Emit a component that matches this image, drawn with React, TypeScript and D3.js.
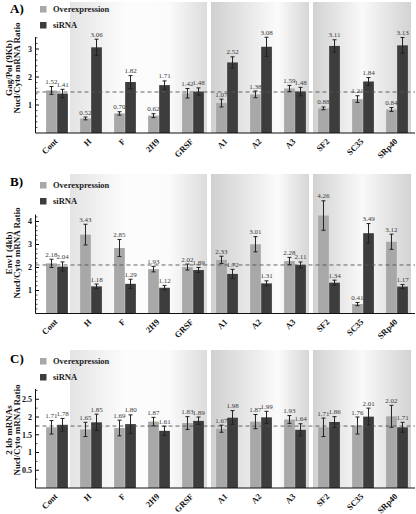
import React from "react";
import * as d3 from "d3";

const categories = ["Cont", "H", "F", "2H9", "GRSF", "A1", "A2", "A3", "SF2", "SC35", "SRp40"];
const seriesNames = ["Overexpression", "siRNA"];

const gagOE = [1.52, 0.52, 0.70, 0.62, 1.42, 1.07, 1.38, 1.59, 0.88, 1.21, 0.84];
const gagSi = [1.41, 3.06, 1.82, 1.71, 1.48, 2.52, 3.08, 1.48, 3.11, 1.84, 3.13];
const gagOEErr = [0.14, 0.05, 0.06, 0.07, 0.17, 0.14, 0.12, 0.11, 0.05, 0.12, 0.07];
const gagSiErr = [0.15, 0.29, 0.23, 0.15, 0.13, 0.2, 0.34, 0.15, 0.22, 0.14, 0.28];

const envOE = [2.18, 3.43, 2.85, 1.93, 2.02, 2.33, 3.01, 2.28, 4.26, 0.41, 3.12];
const envSi = [2.04, 1.18, 1.29, 1.12, 1.89, 1.72, 1.31, 2.11, 1.34, 3.49, 1.17];
const envOEErr = [0.18, 0.45, 0.37, 0.12, 0.13, 0.16, 0.33, 0.16, 0.64, 0.07, 0.33];
const envSiErr = [0.2, 0.1, 0.2, 0.1, 0.11, 0.2, 0.11, 0.13, 0.11, 0.42, 0.09];

const kbOE = [1.71, 1.65, 1.69, 1.87, 1.83, 1.67, 1.87, 1.93, 1.71, 1.76, 2.02];
const kbSi = [1.78, 1.85, 1.80, 1.61, 1.89, 1.98, 1.99, 1.64, 1.86, 2.01, 1.71];
const kbOEErr = [0.19, 0.2, 0.22, 0.12, 0.18, 0.1, 0.2, 0.11, 0.26, 0.24, 0.31];
const kbSiErr = [0.18, 0.23, 0.26, 0.13, 0.11, 0.2, 0.17, 0.17, 0.15, 0.24, 0.14];

const gagTicks = [1, 2, 3];
const envTicks = [1, 2, 3, 4];
const kbTicks = [0.5, 1, 1.5, 2, 2.5];

const bgGroups = [
  ["H", "F", "2H9", "GRSF"],
  ["A1", "A2", "A3"],
  ["SF2", "SC35", "SRp40"],
];

const FONT = "'Liberation Serif', 'Times New Roman', serif";
const COLORS = ["#a8a8a8", "#3d3d3d"];

// layout
const bgOffsets = [[-4, -3], [1, -3], [1, -3]];
const bgStops = [
  [[0, "#e4e4e4"], [0.4, "#fcfcfc"], [0.72, "#fbfbfb"], [1, "#dcdcdc"]],
  [[0, "#d0d0d0"], [0.68, "#fbfbfb"], [1, "#d6d6d6"]],
  [[0, "#d2d2d2"], [0.5, "#f9f9f9"], [1, "#d3d3d3"]],
];

const panels = [
  {
    id: "A", label: "A)", top: 0, baseline: 133, max: 3.43, minor: 0.2, ppu: 28,
    ticks: gagTicks, oe: gagOE, si: gagSi, oeErr: gagOEErr, siErr: gagSiErr,
    ylab: ["Gag/Pol (9Kb)", "Nucl/Cyto mRNA Ratio"], bgTop: 2, titleY: 13, ylabC: 68,
  },
  {
    id: "B", label: "B)", top: 176, baseline: 313.5, max: 4.3, minor: 0.2, ppu: 23,
    ticks: envTicks, oe: envOE, si: envSi, oeErr: envOEErr, siErr: envSiErr,
    ylab: ["Env1 (4kb)", "Nucl/Cyto mRNA Ratio"], bgTop: 174, titleY: 186, ylabC: 253,
  },
  {
    id: "C", label: "C)", top: 352, baseline: 488, max: 2.79, minor: 0.25, ppu: 35.5,
    ticks: kbTicks, oe: kbOE, si: kbSi, oeErr: kbOEErr, siErr: kbSiErr,
    ylab: ["2 kb mRNAs", "Nucl/Cyto mRNA Ratio"], bgTop: 350, titleY: 363, ylabC: 430,
  },
];

const AXIS_X = 35.5;
const X_END = 415;

const x = d3.scaleBand<string>().domain(categories).range([40, 414]).paddingInner(0.34).paddingOuter(0.17);
const xSub = d3.scaleBand<string>().domain(seriesNames).range([0, x.bandwidth()]).padding(0.03);
const fmt = d3.format(".2f");

function Panel({ p }: { p: (typeof panels)[number] }) {
  const yTop = p.baseline - p.max * p.ppu;
  const y = d3.scaleLinear().domain([0, p.max]).range([p.baseline, yTop]);
  const step = x.step();
  const cellStart = (c: string) => (x(c) as number) - (step * x.paddingInner()) / 2;
  const minorTicks = d3.range(p.minor, p.max + 1e-9, p.minor).filter((v) => !p.ticks.some((t) => Math.abs(t - v) < 1e-6));
  const ref = (p.oe[0] + p.si[0]) / 2;
  const series = [
    { name: seriesNames[0], vals: p.oe, errs: p.oeErr, color: COLORS[0] },
    { name: seriesNames[1], vals: p.si, errs: p.siErr, color: COLORS[1] },
  ];
  return (
    <g>
      <defs>
        {bgStops.map((stops, i) => (
          <linearGradient key={i} id={`bg${p.id}${i}`} x1="0" x2="1" y1="0" y2="0">
            {stops.map(([o, c], j) => (
              <stop key={j} offset={o as number} stopColor={c as string} />
            ))}
          </linearGradient>
        ))}
      </defs>
      {bgGroups.map((g, i) => {
        const x0 = cellStart(g[0]) + bgOffsets[i][0];
        const x1 = cellStart(g[g.length - 1]) + step + bgOffsets[i][1];
        return <rect key={i} x={x0} y={p.bgTop} width={x1 - x0} height={p.baseline - p.bgTop} fill={`url(#bg${p.id}${i})`} />;
      })}
      <text x={10} y={p.titleY} fontFamily={FONT} fontWeight="bold" fontSize={13}>{p.label}</text>
      {series.map((s, i) => (
        <g key={s.name}>
          <rect x={40} y={p.top + 6 + i * 16} width={6.5} height={6.5} fill={s.color} />
          <text x={53} y={p.top + 12 + i * 16} fontFamily={FONT} fontWeight="bold" fontSize={8.5} fill="#222">{s.name}</text>
        </g>
      ))}
      {p.ylab.map((t, i) => (
        <text key={i} transform={`translate(${11.5 + i * 8.5},${p.ylabC}) rotate(-90)`} textAnchor="middle"
          fontFamily={FONT} fontWeight="bold" fontSize={9} fill="#111">{t}</text>
      ))}
      {series.map((s) =>
        categories.map((c, i) => {
          const bx = (x(c) as number) + (xSub(s.name) as number);
          const bw = xSub.bandwidth();
          const v = s.vals[i];
          return <rect key={s.name + c} x={bx} y={y(v)} width={bw} height={p.baseline - y(v)} fill={s.color} />;
        })
      )}
      <line x1={AXIS_X} x2={X_END} y1={y(ref)} y2={y(ref)} stroke="#555" strokeWidth={0.9} strokeDasharray="4,3" />
      {series.map((s) =>
        categories.map((c, i) => {
          const bx = (x(c) as number) + (xSub(s.name) as number);
          const bw = xSub.bandwidth();
          const v = s.vals[i];
          const e = s.errs[i];
          const cx = bx + bw / 2;
          return (
            <g key={"e" + s.name + c}>
              <line x1={cx} x2={cx} y1={y(v + e)} y2={y(v - e)} stroke="#222" strokeWidth={1} />
              <line x1={cx - 2} x2={cx + 2} y1={y(v + e)} y2={y(v + e)} stroke="#222" strokeWidth={1} />
              <line x1={cx - 2} x2={cx + 2} y1={y(v - e)} y2={y(v - e)} stroke="#222" strokeWidth={1} />
              <text x={cx} y={y(v + e) - 2.5} textAnchor="middle" fontFamily={FONT} fontSize={7} fill="#3a3a3a">{fmt(v)}</text>
            </g>
          );
        })
      )}
      <line x1={AXIS_X} x2={AXIS_X} y1={yTop} y2={p.baseline} stroke="#111" strokeWidth={1} />
      <line x1={AXIS_X} x2={X_END} y1={p.baseline} y2={p.baseline} stroke="#111" strokeWidth={1.2} />
      {minorTicks.map((t) => (
        <line key={"m" + t} x1={AXIS_X} x2={AXIS_X + 2} y1={y(t)} y2={y(t)} stroke="#222" strokeWidth={0.8} />
      ))}
      {p.ticks.map((t) => (
        <g key={"t" + t}>
          <line x1={AXIS_X} x2={AXIS_X + 3.5} y1={y(t)} y2={y(t)} stroke="#111" strokeWidth={1} />
          <text x={32} y={y(t) + 2.8} textAnchor="end" fontFamily={FONT} fontWeight="bold" fontSize={8} fill="#111">
            {String(t)}
          </text>
        </g>
      ))}
      {categories.map((c) => (
        <text key={"x" + c} transform={`translate(${(x(c) as number) + x.bandwidth() / 2 + 1},${p.baseline + 9}) rotate(-45)`}
          textAnchor="end" fontFamily={FONT} fontWeight="bold" fontSize={8.5} fill="#111">{c}</text>
      ))}
    </g>
  );
}

export default function App() {
  return (
    <svg width={416} height={514} style={{ position: "absolute", left: 0, top: 0, background: "#fff" }}>
      <rect width={416} height={514} fill="#fff" />
      {panels.map((p) => (
        <Panel key={p.id} p={p} />
      ))}
    </svg>
  );
}
